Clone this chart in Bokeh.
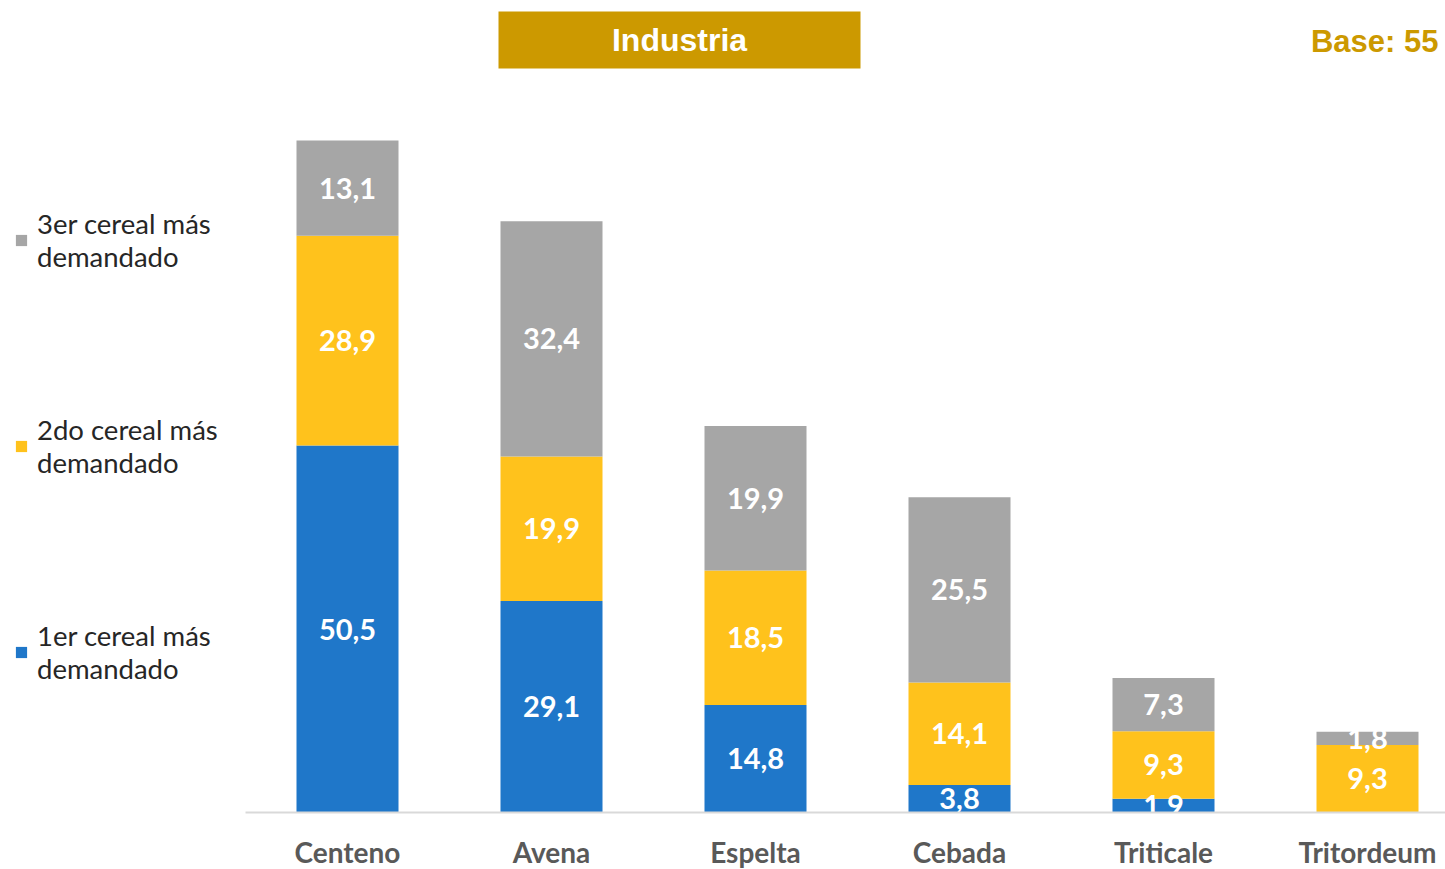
import numpy as np
from bokeh.plotting import figure
from bokeh.models import (ColumnDataSource, Range1d, FixedTicker, Legend, LegendItem,
                          Label, BoxAnnotation)
from bokeh.embed import file_html
from bokeh.resources import INLINE
from bokeh.core.properties import value

# ---------------- data ----------------
categories = ["Centeno", "Avena", "Espelta", "Cebada", "Triticale", "Tritordeum"]
primero = [50.5, 29.1, 14.8, 3.8, 1.9, 0.0]
segundo = [28.9, 19.9, 18.5, 14.1, 9.3, 9.3]
tercero = [13.1, 32.4, 19.9, 25.5, 7.3, 1.8]
series_names = ["1er cereal más\ndemandado", "2do cereal más\ndemandado", "3er cereal más\ndemandado"]
title_text = "Industria"
base_text = "Base: 55"

# ---------------- layout constants ----------------
W, H = 1445, 869
PX_PER_UNIT = 7.265
CAT_PX = 204
BASE_Y = 812        # baseline, px from top of canvas
FIRST_X = 347       # centre of first bar, px from left of canvas

x_start = -FIRST_X / CAT_PX
x_end = x_start + W / CAT_PX
y_end = BASE_Y / PX_PER_UNIT
y_start = -(H - BASE_Y) / PX_PER_UNIT

colors = ["#1F77C9", "#FFC21C", "#A6A6A6"]

xs = list(range(len(categories)))
src = ColumnDataSource(dict(x=xs, s1=primero, s2=segundo, s3=tercero))

p = figure(width=W, height=H, x_range=Range1d(x_start, x_end), y_range=Range1d(y_start, y_end),
           output_backend="svg", toolbar_location=None, y_axis_location=None,
           min_border=0, min_border_left=0, min_border_right=0, min_border_top=0, min_border_bottom=0)
p.outline_line_color = None
p.xgrid.visible = False
p.ygrid.visible = False
p.background_fill_color = "white"

rs = p.vbar_stack(["s1", "s2", "s3"], x="x", width=0.5, source=src,
                  fill_color=colors, line_color=None)

# segment labels
lx, ly, lt = [], [], []
for i in xs:
    bottom = 0.0
    for vals in (primero, segundo, tercero):
        v = vals[i]
        if v > 0:
            lx.append(i)
            ly.append(bottom + v / 2)
            lt.append(f"{v:.1f}".replace(".", ","))
        bottom += v
p.text(x=lx, y=ly, text=lt, text_color="white", text_font=value("Lato"),
       text_font_size="29px", text_font_style="bold", text_align="center", text_baseline="middle")

# x axis
ax = p.xaxis[0]
ax.ticker = FixedTicker(ticks=xs)
ax.major_label_overrides = {i: c for i, c in zip(xs, categories)}
ax.fixed_location = 0
ax.bounds = (-0.5, x_end)
ax.axis_line_color = "#D9D9D9"
ax.axis_line_width = 2
ax.major_tick_line_color = None
ax.minor_tick_line_color = None
ax.major_label_text_font = "Lato"
ax.major_label_text_font_style = "bold"
ax.major_label_text_font_size = "28px"
ax.major_label_text_color = "#595959"
ax.major_label_standoff = 16

# legend
legend = Legend(items=[LegendItem(label=series_names[i], renderers=[rs[i]]) for i in (2, 1, 0)],
                location=(14, 184), orientation="vertical", spacing=140,
                glyph_width=14, glyph_height=14, label_standoff=9,
                label_text_font="Lato", label_text_font_size="27.5px", label_text_color="#262626",
                label_text_line_height=1.45,
                background_fill_alpha=0, border_line_color=None, padding=0, margin=0)
p.add_layout(legend)

# title box
p.add_layout(BoxAnnotation(left=498, right=860, top=858, bottom=801,
                           left_units="screen", right_units="screen",
                           top_units="screen", bottom_units="screen",
                           fill_color="#CC9900", fill_alpha=1, line_color=None))
p.add_layout(Label(x=679, y=829.5, x_units="screen", y_units="screen", text=title_text,
                   text_color="white", text_font="Liberation Sans", text_font_style="bold",
                   text_font_size="32px", text_align="center", text_baseline="middle"))
p.add_layout(Label(x=1438, y=828, x_units="screen", y_units="screen", text=base_text,
                   text_color="#CC9900", text_font="Liberation Sans", text_font_style="bold",
                   text_font_size="31px", text_align="right", text_baseline="middle"))

open("out.html", "w").write(file_html(p, INLINE))
